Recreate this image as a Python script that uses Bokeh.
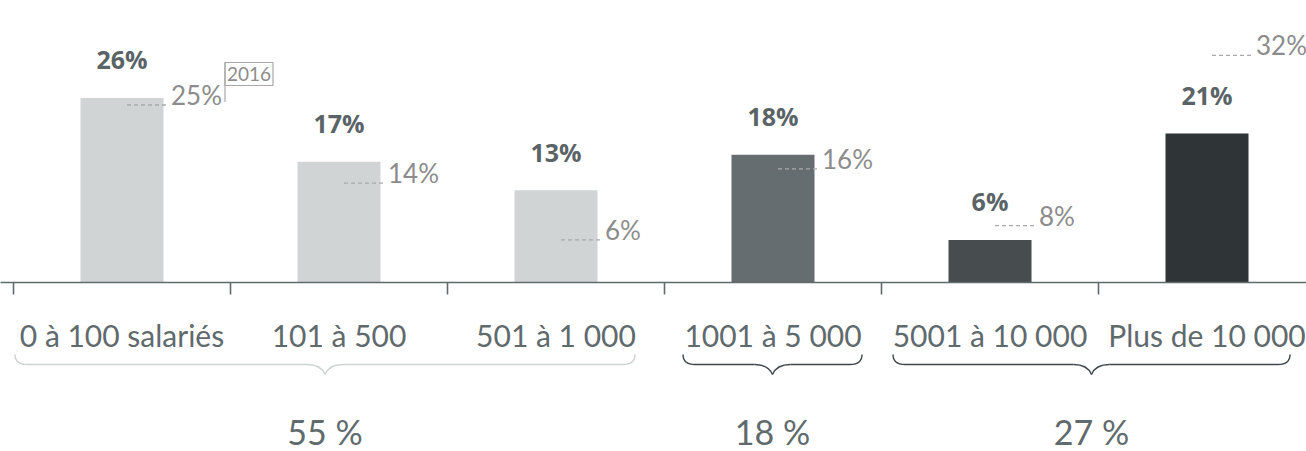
from bokeh.plotting import figure
from bokeh.models import Range1d
from bokeh.core.properties import value
from bokeh.embed import file_html
from bokeh.resources import INLINE

# ---------------- data ----------------
categories = ["0 à 100 salariés", "101 à 500", "501 à 1 000",
              "1001 à 5 000", "5001 à 10 000", "Plus de 10 000"]
share_current = [26, 17, 13, 18, 6, 21]
share_2016 = [25, 14, 6, 16, 8, 32]
previous_year = "2016"
group_members = [[0, 1, 2], [3], [4, 5]]
group_totals = [55, 18, 27]

# ---------------- layout / style ----------------
W, H = 1306, 451
CAT_PX = 217.0          # pixels per category
LEFT_PX = 13.0          # left edge of first category
BASE_PX = 282.0         # baseline position from top
UNIT_PX = 7.1           # pixels per percentage point
TXT_SHIFT = 12          # svg baseline compensation (px)

def dx(px):
    return px / CAT_PX

def dy(px):
    return px / UNIT_PX

bar_colors = ["#d1d4d4", "#d1d4d4", "#d1d4d4", "#656d70", "#474c4f", "#2f3437"]
brace_colors = ["#cdd1d1", "#3f4649", "#3f4649"]
brace_pad = [(107, 79), (90, 89), (97, 83)]   # px beyond first / last category centres
TEXT_GREY = "#5f6a6d"
VAL_GREY = "#5a6467"
PREV_GREY = "#8c8c8c"

p = figure(width=W, height=H, output_backend="svg", toolbar_location=None,
           x_range=Range1d(-LEFT_PX / CAT_PX, (W - LEFT_PX) / CAT_PX),
           y_range=Range1d(-(H - BASE_PX) / UNIT_PX, BASE_PX / UNIT_PX),
           x_axis_location=None, y_axis_location=None, min_border=0)
p.outline_line_color = None
p.xgrid.visible = False
p.ygrid.visible = False
p.background_fill_color = "white"
p.border_fill_color = "white"

n = len(categories)
xc = [i + 0.5 for i in range(n)]

# bars
p.vbar(x=xc, top=share_current, bottom=0, width=dx(83), fill_color=bar_colors,
       line_color=None)

# baseline & ticks
p.segment(x0=[-1], x1=[n + 1], y0=[0], y1=[0], line_color="#5f6a6d", line_width=1.6)
p.segment(x0=list(range(n + 1)), x1=list(range(n + 1)), y0=[0] * (n + 1),
          y1=[-dy(12)] * (n + 1), line_color="#5f6a6d", line_width=1.6)

# current values (bold)
p.text(x=xc, y=[v + dy(26.5 + TXT_SHIFT) for v in share_current],
       text=[f"{v}%" for v in share_current],
       text_font=value("Open Sans"), text_font_style="bold", text_font_size="25px",
       text_color=VAL_GREY, text_align="center", text_baseline="alphabetic")

# previous-year markers
p.segment(x0=[x + dx(5) for x in xc], x1=[x + dx(47) for x in xc],
          y0=share_2016, y1=share_2016, line_color="#a9a9a9", line_width=1.3,
          line_dash="4 3")
p.text(x=[x + dx(49) for x in xc], y=[v - dy(2 - TXT_SHIFT) for v in share_2016],
       text=[f"{v}%" for v in share_2016],
       text_font=value("Lato"), text_font_size="26px", text_color=PREV_GREY,
       text_align="left", text_baseline="alphabetic")

# year tag next to first bar
box_x = xc[0] + dx(127)
box_y = share_2016[0] + dy(31)
p.rect(x=[box_x], y=[box_y], width=48, height=23, width_units="screen",
       height_units="screen", fill_color="white", line_color="#a8a8a8", line_width=1.2)
p.segment(x0=[xc[0] + dx(103)], x1=[xc[0] + dx(103)], y0=[box_y + dy(11.5)],
          y1=[share_2016[0] + dy(3)], line_color="#a8a8a8", line_width=1.2)
p.text(x=[box_x], y=[box_y], text=[previous_year], text_font=value("Lato"),
       text_font_size="19px", text_color=PREV_GREY, text_align="center",
       text_baseline="middle")

# category labels
p.text(x=xc, y=[-dy(64 - TXT_SHIFT)] * n, text=categories, text_font=value("Lato"),
       text_font_size="30px", text_color=TEXT_GREY, text_align="center",
       text_baseline="alphabetic")

# braces + group totals
y_top, y_mid, y_tip = -dy(72), -dy(82), -dy(92)
mids = []
for g, members in enumerate(group_members):
    x0 = xc[members[0]] - dx(brace_pad[g][0])
    x1 = xc[members[-1]] + dx(brace_pad[g][1])
    xm = (x0 + x1) / 2
    mids.append(xm)
    col = brace_colors[g]
    r_end, r_tip = dx(12), dx(18)
    p.quadratic(x0=[x0, x1], y0=[y_top, y_top], x1=[x0 + r_end, x1 - r_end], y1=[y_mid, y_mid],
                cx=[x0, x1], cy=[y_mid, y_mid], line_color=col, line_width=1.4)
    p.segment(x0=[x0 + r_end, xm + r_tip], x1=[xm - r_tip, x1 - r_end], y0=[y_mid, y_mid],
              y1=[y_mid, y_mid], line_color=col, line_width=1.4)
    p.quadratic(x0=[xm - r_tip, xm + r_tip], y0=[y_mid, y_mid], x1=[xm, xm], y1=[y_tip, y_tip],
                cx=[xm - dx(4), xm + dx(4)], cy=[y_mid, y_mid], line_color=col, line_width=1.4)

p.text(x=mids, y=[-dy(163 - TXT_SHIFT - 2)] * len(mids), text=[f"{t} %" for t in group_totals],
       text_font=value("Lato"), text_font_size="34px", text_color=TEXT_GREY,
       text_align="center", text_baseline="alphabetic")

open("out.html", "w").write(file_html(p, INLINE))
